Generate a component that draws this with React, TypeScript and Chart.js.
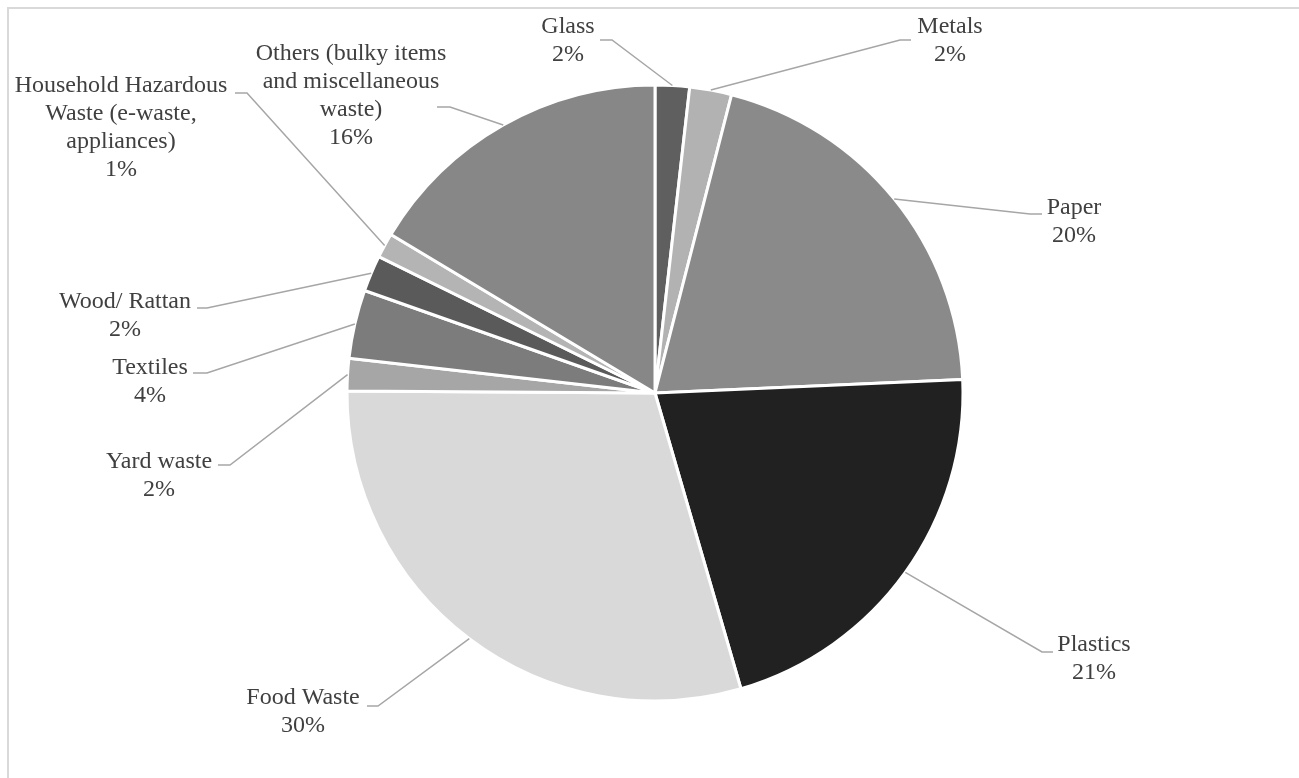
import { useEffect, useRef } from "react";
import { Chart, registerables } from "chart.js";

Chart.register(...registerables);

// Waste composition categories (multi-line names are split into rows)
const categories: (string | string[])[] = [
  "Glass",
  "Metals",
  "Paper",
  "Plastics",
  "Food Waste",
  "Yard waste",
  "Textiles",
  "Wood/ Rattan",
  ["Household Hazardous", "Waste (e-waste,", "appliances)"],
  ["Others (bulky items", "and miscellaneous", "waste)"],
];

// Share of total waste, percent
const shares = [1.8, 2.2, 20.3, 21.2, 29.6, 1.7, 3.6, 1.9, 1.3, 16.4];

const sliceColors = [
  "#5f5f5f",
  "#b2b2b2",
  "#8a8a8a",
  "#212121",
  "#d9d9d9",
  "#a6a6a6",
  "#7c7c7c",
  "#5a5a5a",
  "#b4b4b4",
  "#878787",
];

// Label block placement, relative to the pie centre (px):
// textX / textY = centre of the first text row, stubY = height of the leader's
// horizontal stub, stubX = stub end next to the text, elbowX = stub end toward the pie.
const labelPlacement = [
  { textX: -87, textY: -366, stubY: -353, stubX: -55, elbowX: -43 },
  { textX: 295, textY: -366, stubY: -353, stubX: 256, elbowX: 245 },
  { textX: 419, textY: -185, stubY: -179, stubX: 387, elbowX: 375 },
  { textX: 439, textY: 252, stubY: 259, stubX: 398, elbowX: 387 },
  { textX: -352, textY: 305, stubY: 313, stubX: -288, elbowX: -277 },
  { textX: -496, textY: 69, stubY: 72, stubX: -437, elbowX: -425 },
  { textX: -505, textY: -25, stubY: -20, stubX: -462, elbowX: -448 },
  { textX: -530, textY: -91, stubY: -85, stubX: -458, elbowX: -448 },
  { textX: -534, textY: -307, stubY: -300, stubX: -420, elbowX: -408 },
  { textX: -304, textY: -339, stubY: -286, stubX: -218, elbowX: -205 },
];

const LABEL_FONT = '24px "Liberation Serif", "Times New Roman", serif';
const LINE_STEP = 28;

const leaderLabels = {
  id: "leaderLabels",
  afterDatasetsDraw(chart: any) {
    const ctx: CanvasRenderingContext2D = chart.ctx;
    const meta = chart.getDatasetMeta(0);
    const values = chart.data.datasets[0].data as number[];
    const total = values.reduce((a, b) => a + b, 0);
    ctx.save();
    meta.data.forEach((el: any, i: number) => {
      const { x, y, startAngle, endAngle, outerRadius } = el.getProps(
        ["x", "y", "startAngle", "endAngle", "outerRadius"],
        true
      );
      const mid = (startAngle + endAngle) / 2;
      const px = x + Math.cos(mid) * outerRadius;
      const py = y + Math.sin(mid) * outerRadius;
      const p = labelPlacement[i];

      ctx.strokeStyle = "#a6a6a6";
      ctx.lineWidth = 1.5;
      ctx.beginPath();
      ctx.moveTo(px, py);
      ctx.lineTo(x + p.elbowX, y + p.stubY);
      ctx.lineTo(x + p.stubX, y + p.stubY);
      ctx.stroke();

      const name = chart.data.labels[i];
      const rows = [
        ...(Array.isArray(name) ? name : [name]),
        `${Math.round((values[i] / total) * 100)}%`,
      ];
      ctx.font = LABEL_FONT;
      ctx.fillStyle = "#404040";
      ctx.textAlign = "center";
      ctx.textBaseline = "middle";
      rows.forEach((t: string, k: number) => {
        ctx.fillText(t, x + p.textX, y + p.textY + k * LINE_STEP);
      });
    });
    ctx.restore();
  },
};

export default function App() {
  const canvasRef = useRef<HTMLCanvasElement | null>(null);

  useEffect(() => {
    if (!canvasRef.current) return;
    const chart = new Chart(canvasRef.current, {
      type: "pie",
      data: {
        labels: categories as any,
        datasets: [
          {
            data: shares,
            backgroundColor: sliceColors,
            borderColor: "#ffffff",
            borderWidth: 3,
          },
        ],
      },
      options: {
        responsive: false,
        maintainAspectRatio: false,
        animation: false,
        layout: {
          padding: { left: 345.5, right: 334.5, top: 83.5, bottom: 75.5 },
        },
        plugins: {
          legend: { display: false },
          tooltip: { enabled: false },
        },
      },
      plugins: [leaderLabels],
    });
    return () => chart.destroy();
  }, []);

  return (
    <div
      style={{
        position: "fixed",
        left: 0,
        top: 0,
        width: 1299,
        height: 778,
        overflow: "hidden",
        background: "#ffffff",
      }}
    >
      <div
        style={{
          position: "absolute",
          left: 7,
          top: 7,
          width: 1400,
          height: 900,
          border: "2px solid #d9d9d9",
          boxSizing: "border-box",
        }}
      />
      <canvas
        ref={canvasRef}
        width={1299}
        height={778}
        style={{ position: "absolute", left: 0, top: 0, display: "block" }}
      />
    </div>
  );
}
